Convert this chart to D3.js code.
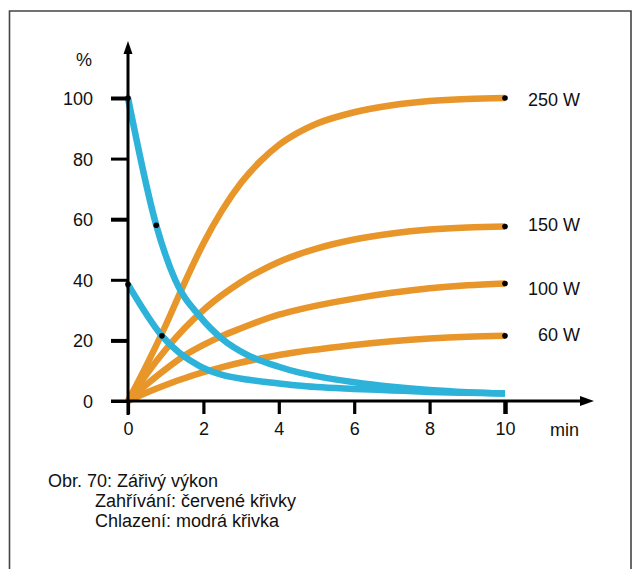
<!DOCTYPE html>
<html>
<head>
<meta charset="utf-8">
<script src="https://cdn.jsdelivr.net/npm/d3@7"></script>
<style>
  html, body { margin: 0; padding: 0; background: #fff; }
  svg text { font-family: "Liberation Sans", Arial, Helvetica, sans-serif; fill: #111; }
</style>
</head>
<body>
<svg id="chart" width="642" height="569"></svg>
<script>
// time axis in minutes
const minutes = [0, 0.5, 1, 1.5, 2, 2.5, 3, 3.5, 4, 4.5, 5, 6, 7, 8, 9, 10];

// heating curves (radiant output in % of the 250 W maximum)
const heat250 = [0, 12, 25, 39, 52, 63, 72, 79, 84.5, 88.5, 91.5, 95.3, 97.6, 99, 99.7, 100];
const heat150 = [0, 9, 17, 24, 30, 35, 39.3, 42.9, 45.9, 48.3, 50.3, 53.3, 55.3, 56.6, 57.3, 57.6];
const heat100 = [0, 5.5, 10.5, 15, 18.5, 21.5, 24, 26.4, 28.5, 30.1, 31.5, 33.8, 35.7, 37.2, 38.2, 38.8];
const heat60  = [0, 2.8, 5.3, 7.5, 9.5, 11.2, 12.7, 14, 15.2, 16.2, 17, 18.5, 19.7, 20.6, 21.2, 21.5];
const heatLabels = ["250 W", "150 W", "100 W", "60 W"];

// cooling curves
const coolTimesA = [0, 0.75, 1.25, 1.9, 2.5, 3.2, 4, 4.5, 5, 6, 7, 8, 9, 10];
const coolA      = [100, 58, 40, 28, 20.5, 15, 11.3, 9.5, 8.2, 6.2, 4.7, 3.6, 2.9, 2.5];
const coolTimesB = [0, 0.9, 1.9, 2.5, 3.2, 4, 4.5, 5, 6, 7, 8, 9, 10];
const coolB      = [38.5, 21.5, 11.5, 8.6, 7, 5.8, 5.1, 4.6, 4, 3.5, 3, 2.7, 2.5];

// marked points on the cooling curves
const coolMarks = [[0, 100], [0.75, 58], [0, 38.5], [0.9, 21.5]];

const yTicks = [0, 20, 40, 60, 80, 100];
const xTicks = [0, 2, 4, 6, 8, 10];
const caption = ["Obr. 70: Zářivý výkon", "Zahřívání: červené křivky", "Chlazení: modrá křivka"];

const ORANGE = "#E8962A";
const BLUE = "#2DB2DA";

const svg = d3.select("#chart");

// frame around the figure
svg.append("path")
  .attr("d", "M9.5,572 V11 H631 V572")
  .attr("fill", "none")
  .attr("stroke", "#444")
  .attr("stroke-width", 1.6);

const x = d3.scaleLinear().domain([0, 10]).range([128, 505]);
const y = d3.scaleLinear().domain([0, 100]).range([401, 98]);

const line = d3.line()
  .x(d => x(d[0]))
  .y(d => y(d[1]))
  .curve(d3.curveMonotoneX);

const heatSeries = [heat250, heat150, heat100, heat60].map(vals => minutes.map((t, i) => [t, vals[i]]));
const coolSeries = [
  coolTimesA.map((t, i) => [t, coolA[i]]),
  coolTimesB.map((t, i) => [t, coolB[i]])
];

// heating curves
svg.append("g").selectAll("path")
  .data(heatSeries)
  .join("path")
  .attr("d", line)
  .attr("fill", "none")
  .attr("stroke", ORANGE)
  .attr("stroke-width", 6.5)
  .attr("stroke-linecap", "butt");

// cooling curves
svg.append("g").selectAll("path")
  .data(coolSeries)
  .join("path")
  .attr("d", line)
  .attr("fill", "none")
  .attr("stroke", BLUE)
  .attr("stroke-width", 6.5)
  .attr("stroke-linecap", "butt");

// y axis
const yAxis = d3.axisLeft(y).tickValues(yTicks).tickSize(17).tickFormat(d3.format("d"));
const gy = svg.append("g").attr("transform", "translate(128,0)").call(yAxis);
gy.select(".domain").remove();
gy.selectAll(".tick line")
  .attr("stroke", "#000")
  .attr("stroke-width", d => (d === 100 || d === 60 || d === 20) ? 4 : 3);
gy.selectAll(".tick text")
  .attr("x", -35)
  .attr("dy", "0.36em")
  .style("font-size", "18px")
  .attr("fill", "#111");

// x axis
const xAxis = d3.axisBottom(x).tickValues(xTicks).tickSize(13).tickFormat(d3.format("d"));
const gx = svg.append("g").attr("transform", "translate(0,401)").call(xAxis);
gx.select(".domain").remove();
gx.selectAll(".tick line")
  .attr("stroke", "#000")
  .attr("stroke-width", d => d === 10 ? 4.5 : 3.2);
gx.selectAll(".tick text")
  .attr("y", 34)
  .attr("dy", 0)
  .style("font-size", "18px")
  .attr("fill", "#111");

// axis lines with arrows
svg.append("line")
  .attr("x1", 128).attr("x2", 128)
  .attr("y1", 415).attr("y2", 48)
  .attr("stroke", "#000").attr("stroke-width", 3);
svg.append("path")
  .attr("d", "M128,41 L123.5,54 L132.5,54 Z")
  .attr("fill", "#000");
svg.append("line")
  .attr("x1", 111).attr("x2", 584)
  .attr("y1", 401).attr("y2", 401)
  .attr("stroke", "#000").attr("stroke-width", 3);
svg.append("path")
  .attr("d", "M594,401 L580,396 L580,406 Z")
  .attr("fill", "#000");

// unit labels
svg.append("text").attr("x", 84).attr("y", 66)
  .attr("text-anchor", "middle").style("font-size", "18px").text("%");
svg.append("text").attr("x", 550).attr("y", 436)
  .style("font-size", "18px").text("min");

// end points and series labels
const ends = heatSeries.map(s => s[s.length - 1]);
svg.append("g").selectAll("circle")
  .data(ends.concat(coolMarks))
  .join("circle")
  .attr("cx", d => x(d[0]))
  .attr("cy", d => y(d[1]))
  .attr("r", 2.8)
  .attr("fill", "#000");

const labelNudge = [1.5, -1.5, 5.5, -1];
svg.append("g").selectAll("text")
  .data(ends)
  .join("text")
  .attr("x", 580)
  .attr("y", (d, i) => y(d[1]) + labelNudge[i])
  .attr("dy", "0.36em")
  .attr("text-anchor", "end")
  .style("font-size", "18px")
  .text((d, i) => heatLabels[i]);

// caption
const capX = [48, 95, 95];
const capY = [487, 507, 527];
svg.append("g").selectAll("text")
  .data(caption)
  .join("text")
  .attr("x", (d, i) => capX[i])
  .attr("y", (d, i) => capY[i])
  .style("font-size", "18px")
  .text(d => d);
</script>
</body>
</html>
